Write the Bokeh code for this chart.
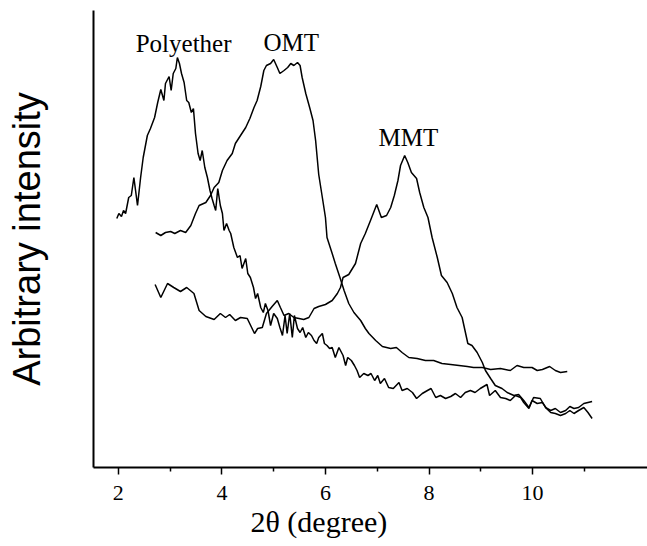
from bokeh.plotting import figure
from bokeh.models import FixedTicker, Range1d, Title
from bokeh.embed import file_html
from bokeh.resources import INLINE
from bokeh.core.properties import value

# Polyether
poly_x = [1.97, 2.01, 2.06, 2.10, 2.14, 2.20, 2.25, 2.30, 2.37, 2.43,
          2.48, 2.56, 2.62, 2.70, 2.76, 2.82, 2.88, 2.91, 2.98, 3.02,
          3.06, 3.11, 3.14, 3.18, 3.22, 3.27, 3.32, 3.36, 3.41, 3.45,
          3.49, 3.54, 3.58, 3.62, 3.67, 3.72, 3.77, 3.81, 3.85, 3.88,
          3.92, 3.97, 4.01, 4.04, 4.09, 4.14, 4.17, 4.23, 4.30, 4.35,
          4.39, 4.46, 4.50, 4.55, 4.61, 4.65, 4.69, 4.75, 4.80, 4.84,
          4.89, 4.94, 5.00, 5.07, 5.12, 5.17, 5.22, 5.26, 5.31, 5.36,
          5.40, 5.46, 5.51, 5.56, 5.62, 5.67, 5.73, 5.78, 5.83, 5.87,
          5.94, 5.98, 6.03, 6.08, 6.13, 6.19, 6.26, 6.34, 6.39, 6.43,
          6.50, 6.56, 6.61, 6.66, 6.74, 6.82, 6.88, 6.95, 7.01, 7.06,
          7.14, 7.22, 7.31, 7.42, 7.48, 7.58, 7.68, 7.76, 7.87, 7.97,
          8.04, 8.13, 8.22, 8.32, 8.42, 8.51, 8.61, 8.70, 8.80, 8.89,
          8.99, 9.12, 9.17, 9.28, 9.38, 9.48, 9.57, 9.67, 9.77, 9.83,
          9.93, 9.99, 10.09, 10.19, 10.27, 10.35, 10.44, 10.54, 10.64, 10.72,
          10.80, 10.89, 10.99, 11.07, 11.15]
poly_y = [249, 254, 251, 257, 254, 270, 272, 290, 262, 290,
          310, 332, 339, 350, 365, 378, 367, 384, 391, 377,
          394, 399, 410, 404, 394, 385, 367, 365, 355, 359,
          334, 314, 307, 317, 300, 290, 277, 269, 262, 257,
          279, 262, 254, 237, 244, 237, 234, 220, 210, 212,
          199, 209, 194, 190, 180, 169, 174, 160, 155, 164,
          157, 142, 154, 149, 140, 132, 152, 134, 154, 130,
          152, 139, 135, 140, 130, 135, 132, 127, 124, 130,
          134, 124, 122, 119, 120, 110, 120, 112, 102, 110,
          107, 102, 97, 90, 94, 92, 94, 87, 92, 84,
          89, 80, 79, 85, 77, 79, 75, 69, 74, 77,
          79, 70, 72, 69, 71, 74, 70, 75, 77, 75,
          79, 83, 72, 77, 70, 69, 67, 72, 70, 65,
          59, 67, 64, 65, 59, 55, 54, 52, 54, 57,
          54, 57, 60, 55, 49]

# MMT
mmt_x = [2.71, 2.82, 2.95, 3.07, 3.20, 3.32, 3.46, 3.56, 3.69, 3.85,
         3.97, 4.07, 4.15, 4.26, 4.36, 4.49, 4.63, 4.69, 4.78, 4.86,
         4.97, 5.07, 5.13, 5.20, 5.29, 5.39, 5.49, 5.58, 5.68, 5.78,
         5.87, 6.00, 6.13, 6.23, 6.29, 6.34, 6.45, 6.58, 6.68, 6.77,
         6.87, 6.93, 6.99, 7.08, 7.18, 7.26, 7.33, 7.40, 7.45, 7.53,
         7.59, 7.66, 7.76, 7.82, 7.90, 7.98, 8.06, 8.16, 8.24, 8.35,
         8.45, 8.54, 8.64, 8.75, 8.83, 8.93, 9.03, 9.09, 9.19, 9.28,
         9.41, 9.51, 9.64, 9.73, 9.83, 9.93, 10.02, 10.15, 10.25, 10.35,
         10.44, 10.54, 10.64, 10.72, 10.80, 10.89, 10.99, 11.07, 11.15]
mmt_y = [183, 170, 184, 180, 176, 180, 174, 157, 151, 148,
         154, 150, 153, 147, 150, 149, 134, 139, 140, 154,
         161, 167, 160, 152, 154, 150, 149, 148, 150, 159,
         161, 163, 167, 174, 180, 190, 193, 204, 224, 234,
         247, 255, 263, 250, 252, 260, 272, 287, 302, 312,
         305, 295, 289, 275, 260, 250, 230, 210, 192, 185,
         174, 160, 150, 124, 122, 115, 105, 97, 89, 82,
         79, 75, 72, 73, 67, 60, 70, 69, 60, 57,
         59, 55, 57, 61, 59, 60, 64, 65, 66]

# OMT
omt_x = [2.72, 2.82, 2.91, 3.01, 3.09, 3.20, 3.30, 3.40, 3.49, 3.56,
         3.69, 3.78, 3.85, 3.94, 4.01, 4.10, 4.20, 4.26, 4.36, 4.46,
         4.54, 4.62, 4.68, 4.75, 4.81, 4.86, 4.94, 5.00, 5.07, 5.12,
         5.20, 5.27, 5.33, 5.39, 5.46, 5.51, 5.55, 5.62, 5.70, 5.76,
         5.81, 5.87, 5.94, 6.00, 6.03, 6.13, 6.19, 6.28, 6.36, 6.45,
         6.55, 6.68, 6.77, 6.84, 6.97, 7.10, 7.26, 7.37, 7.48, 7.61,
         7.77, 7.93, 8.09, 8.25, 8.42, 8.58, 8.74, 8.86, 9.03, 9.19,
         9.38, 9.57, 9.70, 9.83, 9.99, 10.09, 10.19, 10.33, 10.44, 10.54,
         10.67]
omt_y = [235, 232, 235, 236, 234, 237, 235, 242, 254, 262,
         265, 272, 280, 285, 297, 307, 314, 324, 332, 340,
         349, 360, 367, 381, 397, 402, 404, 408, 400, 394,
         397, 400, 404, 402, 405, 402, 390, 374, 359, 347,
         327, 293, 270, 250, 230, 214, 204, 190, 177, 164,
         155, 147, 139, 134, 127, 121, 119, 120, 115, 110,
         109, 107, 107, 104, 103, 102, 101, 100, 100, 98,
         99, 97, 102, 100, 100, 97, 98, 101, 97, 95,
         96]

# Curve labels
label_text = ["Polyether", "OMT", "MMT"]
label_x = [3.26, 5.34, 7.60]
label_y = [424, 425, 330]

x_ticks = [2, 4, 6, 8, 10]
x_minor = [3, 5, 7, 9, 11]
x_title = "2θ (degree)"
y_title = "Arbitrary intensity"

p = figure(width=647, height=546, output_backend="svg", toolbar_location=None,
           x_range=Range1d(1.52, 12.22), y_range=Range1d(0, 457),
           min_border_left=93, min_border_right=0, min_border_top=10,
           min_border_bottom=79, background_fill_color="white",
           border_fill_color="white")
p.outline_line_color = None
p.grid.visible = False

for xs, ys in [(poly_x, poly_y), (mmt_x, mmt_y), (omt_x, omt_y)]:
    p.line(xs, ys, line_color="black", line_width=1.5)

p.text(x=label_x, y=label_y, text=label_text, text_font=value("Liberation Serif"),
       text_font_size="25px", text_align="center", text_baseline="alphabetic",
       text_color="black")

xa = p.xaxis[0]
xa.ticker = FixedTicker(ticks=x_ticks, minor_ticks=x_minor)
xa.axis_line_width = 2
xa.axis_line_color = "black"
xa.major_tick_out = 7
xa.major_tick_in = 0
xa.minor_tick_out = 4
xa.minor_tick_in = 0
xa.major_tick_line_width = 1.5
xa.minor_tick_line_width = 1.5
xa.major_label_text_font = "Liberation Serif"
xa.major_label_text_font_size = "22px"
xa.major_label_text_color = "black"
xa.major_label_standoff = 11

ya = p.yaxis[0]
ya.ticker = FixedTicker(ticks=[])
ya.axis_line_width = 2
ya.axis_line_color = "black"
ya.major_tick_out = 0
ya.major_tick_in = 0
ya.minor_tick_out = 0
ya.minor_tick_in = 0
ya.axis_label = y_title
ya.axis_label_text_font = "Liberation Sans"
ya.axis_label_text_font_size = "38px"
ya.axis_label_text_font_style = "normal"
ya.axis_label_text_color = "black"
ya.axis_label_standoff = 46

p.add_layout(Title(text=x_title, align="left", offset=157,
                   text_font="Liberation Serif", text_font_size="30px",
                   text_font_style="normal", text_color="black", standoff=0),
             "below")

open("out.html", "w").write(file_html(p, INLINE))
